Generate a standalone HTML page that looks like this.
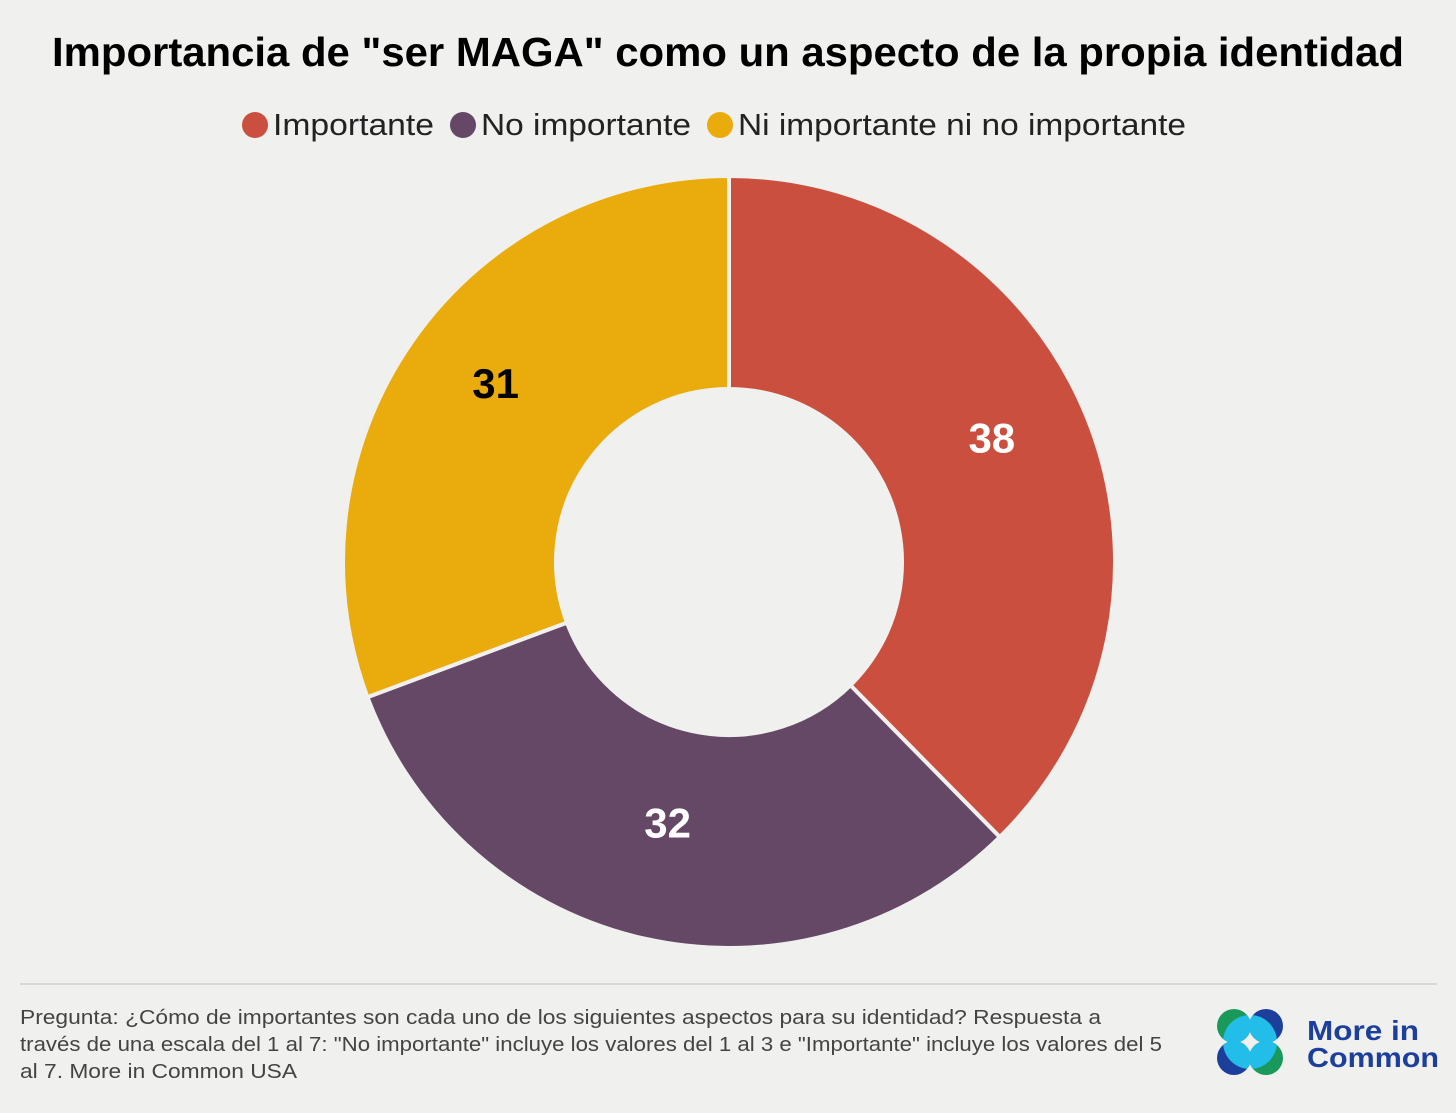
<!DOCTYPE html>
<html><head><meta charset="utf-8"><style>
body{margin:0;background:#f0f0ee;width:1456px;height:1108px;overflow:hidden;font-family:"Liberation Sans",sans-serif;}
</style></head><body>
<svg width="1456" height="1108">
<defs><clipPath id="lc"><circle cx="1250" cy="1042" r="27"/></clipPath></defs>
<rect width="1456" height="1108" fill="#f0f0ee"/>
<text x="52" y="66" textLength="1352" lengthAdjust="spacingAndGlyphs" font-size="41" font-weight="bold" fill="#000">Importancia de "ser MAGA" como un aspecto de la propia identidad</text>
<g id="legend" font-size="31" fill="#222"></g>
<g id="donut"></g>
<line x1="20" y1="984" x2="1437" y2="984" stroke="#cfcfcd" stroke-width="1.5"/>
<g font-size="20" fill="#444">
<text x="20" y="1024" textLength="1081" lengthAdjust="spacingAndGlyphs">Pregunta: ¿Cómo de importantes son cada uno de los siguientes aspectos para su identidad? Respuesta a</text>
<text x="20" y="1051" textLength="1142" lengthAdjust="spacingAndGlyphs">través de una escala del 1 al 7: "No importante" incluye los valores del 1 al 3 e "Importante" incluye los valores del 5</text>
<text x="20" y="1078" textLength="277" lengthAdjust="spacingAndGlyphs">al 7. More in Common USA</text>
</g>
<g>
<circle cx="1234" cy="1026" r="17" fill="#1a9a5a"/><circle cx="1266" cy="1026" r="17" fill="#1d3f9c"/>
<circle cx="1234" cy="1058" r="17" fill="#1d3f9c"/><circle cx="1266" cy="1058" r="17" fill="#1a9a5a"/>
<g clip-path="url(#lc)" fill="#22bde8">
<circle cx="1234" cy="1026" r="17"/><circle cx="1266" cy="1026" r="17"/>
<circle cx="1234" cy="1058" r="17"/><circle cx="1266" cy="1058" r="17"/>
</g>
<text x="1307" y="1040" textLength="112" lengthAdjust="spacingAndGlyphs" font-size="28" font-weight="bold" fill="#1d3f9c">More in</text>
<text x="1307" y="1067" textLength="132" lengthAdjust="spacingAndGlyphs" font-size="28" font-weight="bold" fill="#1d3f9c">Common</text>
</g>
</svg>
<script>
const categories=["Importante","No importante","Ni importante ni no importante"];
const values=[38,32,31];
const colors=["#cb4f3e","#654866","#eaab0c"];
const labelColors=["#fff","#fff","#000"];
const NS="http://www.w3.org/2000/svg";
const cx=729,cy=562,R=386,r=173;
const total=values.reduce((a,b)=>a+b,0);
const donut=document.getElementById('donut');
function pt(a,rad){return [cx+rad*Math.sin(a),cy-rad*Math.cos(a)];}
let acc=0;
values.forEach((v,i)=>{
  const a0=acc/total*2*Math.PI,a1=(acc+v)/total*2*Math.PI;acc+=v;
  const large=(a1-a0)>Math.PI?1:0;
  const [x0,y0]=pt(a0,R),[x1,y1]=pt(a1,R),[x2,y2]=pt(a1,r),[x3,y3]=pt(a0,r);
  const p=document.createElementNS(NS,'path');
  p.setAttribute('d',`M${x0},${y0}A${R},${R} 0 ${large} 1 ${x1},${y1}L${x2},${y2}A${r},${r} 0 ${large} 0 ${x3},${y3}Z`);
  p.setAttribute('fill',colors[i]);p.setAttribute('stroke','#f0f0ee');p.setAttribute('stroke-width','4');p.setAttribute('stroke-linejoin','round');
  
  
  donut.appendChild(p);
  const am=(a0+a1)/2,[lx,ly]=pt(am,284);
  const t=document.createElementNS(NS,'text');
  t.setAttribute('x',lx);t.setAttribute('y',ly-2);t.setAttribute('text-anchor','middle');
  t.setAttribute('font-size','42');t.setAttribute('font-weight','bold');t.setAttribute('fill',labelColors[i]);
  t.textContent=v;
  
  
  donut.appendChild(t);
});
const leg=document.getElementById('legend');
const legX=[255,463,720];
const legW=[161,210,448];
categories.forEach((c,i)=>{
  const g=document.createElementNS(NS,'g');
  
  
  const ci=document.createElementNS(NS,'circle');
  ci.setAttribute('cx',legX[i]);ci.setAttribute('cy',125);ci.setAttribute('r',13);ci.setAttribute('fill',colors[i]);
  const t=document.createElementNS(NS,'text');
  t.setAttribute('x',legX[i]+18);t.setAttribute('y',135);t.textContent=c;
  t.setAttribute('textLength',legW[i]);t.setAttribute('lengthAdjust','spacingAndGlyphs');
  g.appendChild(ci);g.appendChild(t);leg.appendChild(g);
});
</script>
</body></html>
